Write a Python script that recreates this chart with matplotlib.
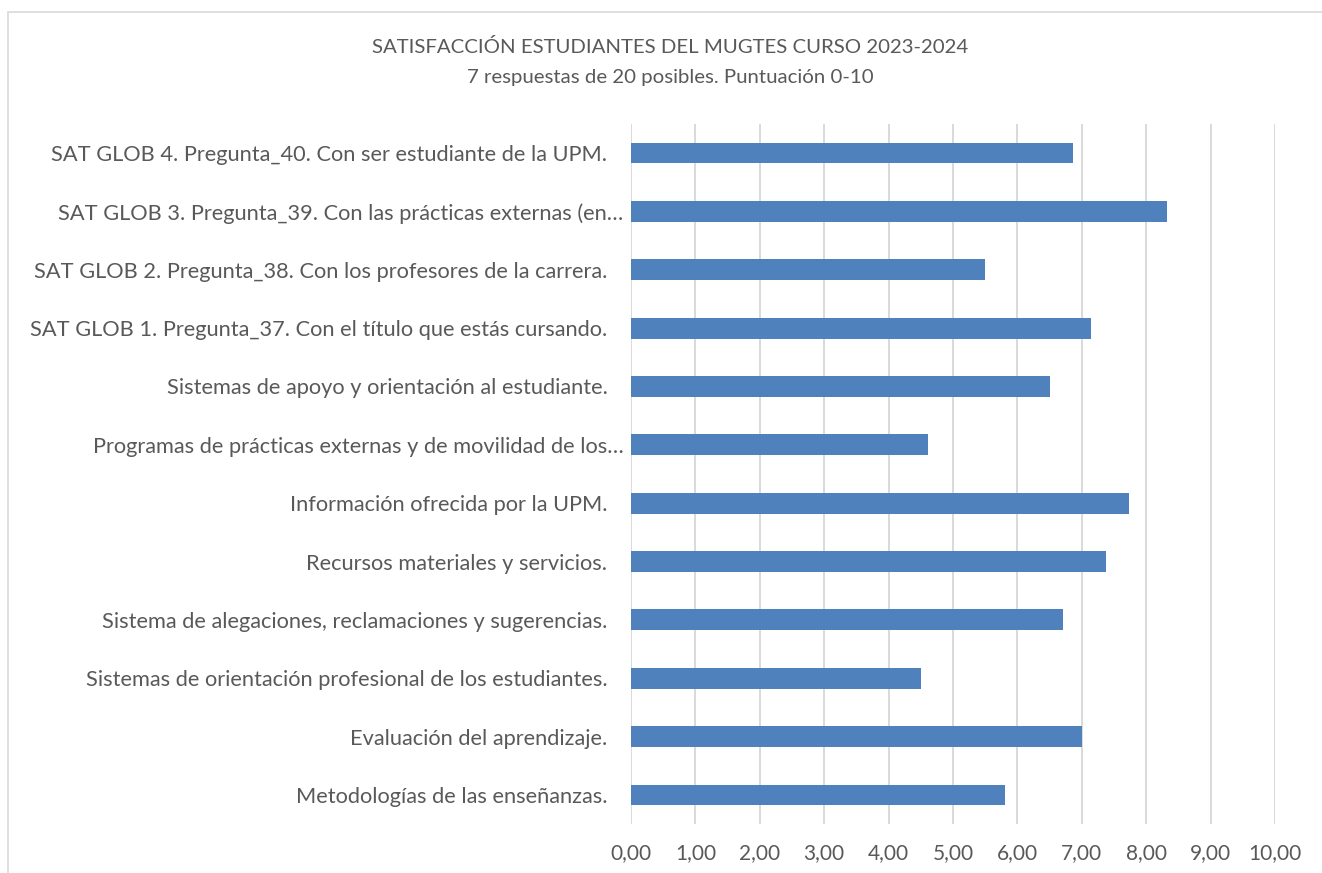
import matplotlib.pyplot as plt
from matplotlib.patches import Rectangle
from matplotlib.transforms import ScaledTranslation

# categories from bottom to top
categories = [
    "Metodologías de las enseñanzas.",
    "Evaluación del aprendizaje.",
    "Sistemas de orientación profesional de los estudiantes.",
    "Sistema de alegaciones, reclamaciones y sugerencias.",
    "Recursos materiales y servicios.",
    "Información ofrecida por la UPM.",
    "Programas de prácticas externas y de movilidad de los…",
    "Sistemas de apoyo y orientación al estudiante.",
    "SAT GLOB 1. Pregunta_37. Con el título que estás cursando.",
    "SAT GLOB 2. Pregunta_38. Con los profesores de la carrera.",
    "SAT GLOB 3. Pregunta_39. Con las prácticas externas (en…",
    "SAT GLOB 4. Pregunta_40. Con ser estudiante de la UPM.",
]
scores = [5.81, 7.00, 4.50, 6.71, 7.38, 7.74, 4.62, 6.50, 7.14, 5.50, 8.33, 6.86]
x_ticks = list(range(0, 11))
x_tick_labels = [f"{v},00" for v in x_ticks]

title = "SATISFACCIÓN ESTUDIANTES DEL MUGTES CURSO 2023-2024"
subtitle = "7 respuestas de 20 posibles. Puntuación 0-10"

text_col = "#595959"
font = ["Lato", "DejaVu Sans"]
plt.rcParams["font.family"] = font

fig = plt.figure(figsize=(13.22, 8.73), dpi=100)
ax = fig.add_axes([0.4773, 0.0561, 0.4871, 0.8019])

ax.barh(range(len(categories)), scores, height=0.355, color="#4f81bd", zorder=3)
ax.set_xlim(0, 10)
ax.set_ylim(-0.5, len(categories) - 0.5)
ax.set_xticks(x_ticks)
ax.set_xticklabels(x_tick_labels)
ax.set_yticks(range(len(categories)))
ax.set_yticklabels(categories)
ax.tick_params(axis="both", length=0, labelcolor=text_col)
ax.tick_params(axis="x", pad=14, labelsize=15)
ax.tick_params(axis="y", pad=17, labelsize=15.7)
ax.grid(axis="x", color="#d9d9d9", linewidth=1.4, zorder=0)
for s in ax.spines.values():
    s.set_visible(False)

# truncated labels sit a bit further right
for lab in ax.get_yticklabels():
    if lab.get_text().endswith("…"):
        lab.set_transform(lab.get_transform() + ScaledTranslation(16 / 100, 0, fig.dpi_scale_trans))

fig.text(0.507, 1 - 47 / 873, title, ha="center", va="center", fontsize=14.7, color=text_col)
fig.text(0.507, 1 - 78 / 873, subtitle, ha="center", va="center", fontsize=14.7, color=text_col)

# chart area border
fig.add_artist(Rectangle((8 / 1322, -0.1), 1.1, 1 - 12 / 873 + 0.1, transform=fig.transFigure,
                         fill=False, edgecolor="#d9d9d9", linewidth=1.2))

fig.savefig("out.png", dpi=100)
